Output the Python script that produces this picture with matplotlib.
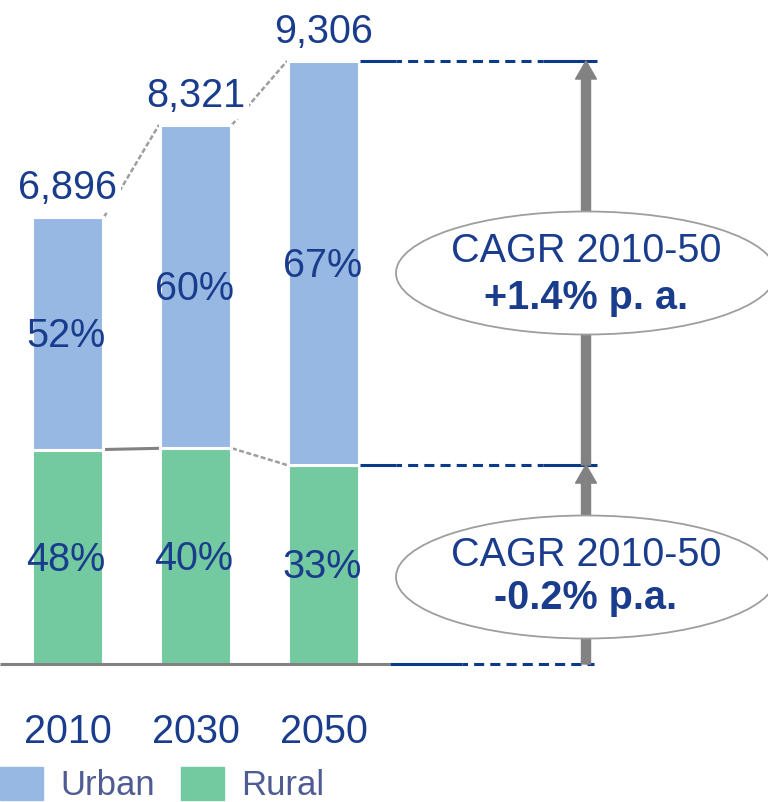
import matplotlib
matplotlib.use("Agg")
import matplotlib.pyplot as plt
from matplotlib.patches import Ellipse, FancyArrowPatch, Patch, ArrowStyle

plt.rcParams['font.family'] = ['Liberation Sans', 'DejaVu Sans']

# ---- data ----
years = ["2010", "2030", "2050"]
totals = [6896, 8321, 9306]
urban_share = [52, 60, 67]
rural_share = [48, 40, 33]
total_labels = ["6,896", "8,321", "9,306"]
cagr_total = "+1.4% p. a."
cagr_rural = "-0.2% p.a."
legend_labels = ["Urban", "Rural"]

rural = [t * r / 100 for t, r in zip(totals, rural_share)]
urban = [t - r for t, r in zip(totals, rural)]

# ---- style ----
URBAN_C = "#98b8e4"
RURAL_C = "#73c9a0"
TXT_C = "#1a3c8c"
NAVY = "#0b3a8a"
GRAY = "#828282"
LGRAY = "#9e9e9e"
FS = 28.5

W, H = 768, 802
fig = plt.figure(figsize=(W / 100, H / 100), dpi=100)
base_px = 664
pxu = 0.0648  # px per unit
ax = fig.add_axes([0, (H - base_px) / H, 1, base_px / H])
step = 128.0
x0px = 67.5
ax.set_xlim(-x0px / step, (W - x0px) / step)
ax.set_ylim(0, base_px / pxu)
for s in ax.spines.values():
    s.set_visible(False)
ax.set_yticks([])

def px2x(p):
    return (p - x0px) / step

def py2y(p):
    return (base_px - p) / pxu

x = list(range(len(years)))
bw = 0.555
ax.bar(x, rural, width=bw, color=RURAL_C, edgecolor="white", linewidth=2.2, zorder=2)
ax.bar(x, urban, bottom=rural, width=bw, color=URBAN_C, edgecolor="white", linewidth=2.2, zorder=2)

ax.set_xticks(x)
ax.set_xticklabels(years, fontsize=FS, color=TXT_C)
ax.tick_params(axis="x", length=0, pad=35)

# connectors
d = 0.02
half = 0.53 / 2
for i in range(2):
    ax.plot([x[i] + half + d, x[i + 1] - half - d], [totals[i], totals[i + 1]],
            color=LGRAY, lw=1.8, ls=(0, (2, 1)), zorder=1)
ax.plot([x[0] + half + d, x[1] - half - d], [rural[0], rural[1]],
        color=GRAY, lw=2.2, zorder=1)
ax.plot([x[1] + half + d, x[2] - half - d], [rural[1], rural[2]],
        color=LGRAY, lw=1.8, ls=(0, (2, 1)), zorder=1)

# total labels
for i in range(3):
    ax.annotate(total_labels[i], (x[i], totals[i]), xytext=(0, 13), textcoords="offset points",
                ha="center", va="baseline", fontsize=FS, color=TXT_C, zorder=5,
                bbox=dict(boxstyle="square,pad=0.1", fc="white", ec="none"))

# percent labels
for i in range(3):
    ax.annotate(f"{urban_share[i]}%", (x[i], rural[i] + urban[i] / 2), xytext=(-1, -10),
                textcoords="offset points", ha="center", va="baseline", fontsize=FS,
                color=TXT_C, zorder=5)
    ax.annotate(f"{rural_share[i]}%", (x[i], rural[i] / 2), xytext=(-1, -10),
                textcoords="offset points", ha="center", va="baseline", fontsize=FS,
                color=TXT_C, zorder=5)

# reference lines
def ref_line(xa_px, xb_px, y, solid_a, solid_b):
    xa, xb = px2x(xa_px), px2x(xb_px)
    xs1, xs2 = px2x(xa_px + solid_a), px2x(xb_px - solid_b)
    kw = dict(color=NAVY, lw=2.2, zorder=3, clip_on=False)
    ax.plot([xa, xs1], [y, y], solid_capstyle="butt", **kw)
    ax.plot([xs1, xs2], [y, y], ls=(1.5, (3.3, 2.0)), **kw)
    if solid_b > 0:
        ax.plot([xs2, xb], [y, y], solid_capstyle="butt", **kw)

ax.plot([px2x(0), px2x(390)], [0, 0], color=GRAY, lw=2.2, solid_capstyle="butt",
        zorder=3, clip_on=False)
ref_line(390, 594, 0, 72, 0)
ref_line(360, 597, totals[2], 36, 54)
ref_line(360, 597, rural[2], 36, 54)

# arrows
xa = px2x(586)
style = ArrowStyle.Simple(head_length=1.3, head_width=1.5, tail_width=0.65)
for (ya, yb) in [(0, rural[2]), (rural[2], totals[2])]:
    ax.add_patch(FancyArrowPatch((xa, ya), (xa, yb), arrowstyle=style, mutation_scale=10,
                                 color=GRAY, shrinkA=0, shrinkB=0, zorder=3, clip_on=False))

# ellipses with CAGR text
for cy_px, l2_off, txt in [(273, -26, cagr_total), (577, -23, cagr_rural)]:
    cy = py2y(cy_px)
    ax.add_patch(Ellipse((xa, cy), 380 / step, 123 / pxu, fc="white", ec=LGRAY, lw=1.3, zorder=4))
    ax.annotate("CAGR 2010-50", (xa, cy), xytext=(0, 8), textcoords="offset points",
                ha="center", va="baseline", fontsize=FS, color=TXT_C, zorder=5)
    ax.annotate(txt, (xa, cy), xytext=(0, l2_off), textcoords="offset points",
                ha="center", va="baseline", fontsize=FS, color=TXT_C, fontweight="bold", zorder=5)

# legend
handles = [Patch(color=URBAN_C), Patch(color=RURAL_C)]
leg = fig.legend(handles, legend_labels, loc="upper left", bbox_to_anchor=(0, (H - 767) / H),
                 ncol=2, frameon=False, fontsize=25, handlelength=1.24, handleheight=1.1,
                 handletextpad=0.49, columnspacing=0.75, borderpad=0, borderaxespad=0)
for t in leg.get_texts():
    t.set_color("#4f5b93")

fig.savefig("out.png", dpi=100)
